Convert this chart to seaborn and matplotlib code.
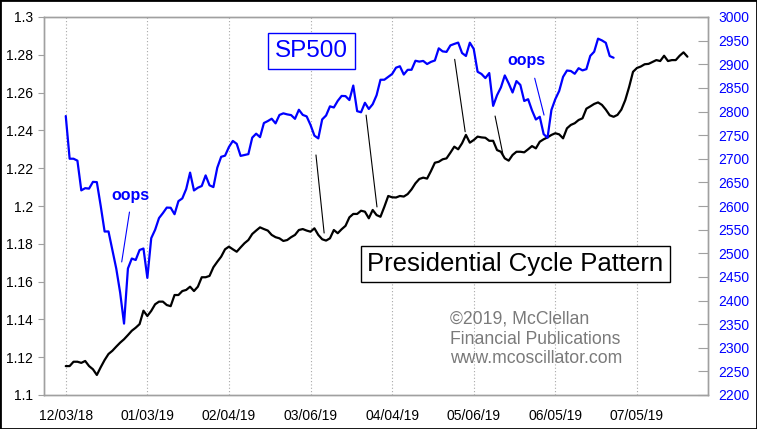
import matplotlib
matplotlib.use('Agg')
import matplotlib.pyplot as plt
import pandas as pd
import seaborn as sns
from matplotlib.patches import Rectangle

# x axis is in trading bars counted from 12/03/18, a label every 21 bars
tick_bars = [0, 21, 42, 63, 84, 105, 126, 147]
tick_labels = ['12/03/18', '01/03/19', '02/04/19', '03/06/19',
               '04/04/19', '05/06/19', '06/05/19', '07/05/19']

# SP500 daily closes, one per bar (right axis)
sp500 = [
    2790.37, 2700.06, 2700.06, 2695.95, 2633.08, 2637.72, 2636.78, 2651.07, 2650.54, 2599.95,
    2545.94, 2546.16, 2506.96, 2467.42, 2416.62, 2351.10, 2467.70, 2488.83, 2485.74, 2506.85,
    2510.03, 2447.89, 2531.94, 2549.69, 2574.41, 2584.96, 2596.64, 2596.26, 2582.61, 2610.30,
    2616.10, 2635.96, 2670.71, 2632.90, 2638.70, 2642.33, 2664.76, 2643.85, 2640.00, 2681.05,
    2704.10, 2706.53, 2724.87, 2737.70, 2731.61, 2706.05, 2707.88, 2709.80, 2744.73, 2753.03,
    2745.73, 2775.60, 2779.76, 2784.70, 2774.88, 2792.67, 2796.11, 2793.90, 2792.38, 2784.49,
    2803.69, 2792.81, 2789.65, 2771.45, 2748.93, 2743.07, 2783.30, 2791.52, 2810.92, 2808.48,
    2822.48, 2832.94, 2832.57, 2824.23, 2854.88, 2800.71, 2798.36, 2818.46, 2805.37, 2815.44,
    2834.40, 2867.19, 2867.24, 2873.40, 2879.39, 2892.74, 2895.77, 2878.20, 2888.21, 2888.32,
    2907.41, 2905.58, 2907.06, 2900.45, 2905.03, 2907.97, 2933.68, 2927.25, 2926.17, 2939.88,
    2943.03, 2945.83, 2923.73, 2917.52, 2945.64, 2932.47, 2884.05, 2879.42, 2870.72, 2881.40,
    2811.87, 2834.41, 2850.96, 2876.32, 2859.53, 2840.23, 2864.36, 2856.27, 2822.24, 2826.06,
    2802.39, 2783.02, 2788.86, 2752.06, 2744.45, 2803.27, 2826.15, 2843.49, 2873.34, 2886.73,
    2885.72, 2879.84, 2891.64, 2886.98, 2889.67, 2917.75, 2926.46, 2954.18, 2950.46, 2945.35,
    2917.38, 2913.78,
]

# presidential cycle pattern, one per bar (left axis)
pattern = [
    1.1153, 1.1153, 1.1176, 1.1176, 1.1170, 1.1180, 1.1153, 1.1136, 1.1106, 1.1147,
    1.1185, 1.1217, 1.1234, 1.1256, 1.1277, 1.1295, 1.1317, 1.1340, 1.1356, 1.1375,
    1.1446, 1.1418, 1.1445, 1.1480, 1.1494, 1.1494, 1.1476, 1.1470, 1.1529, 1.1529,
    1.1550, 1.1556, 1.1573, 1.1550, 1.1573, 1.1623, 1.1623, 1.1630, 1.1676, 1.1705,
    1.1732, 1.1771, 1.1785, 1.1771, 1.1758, 1.1781, 1.1803, 1.1820, 1.1852, 1.1870,
    1.1887, 1.1878, 1.1870, 1.1847, 1.1835, 1.1829, 1.1815, 1.1820, 1.1835, 1.1847,
    1.1873, 1.1878, 1.1870, 1.1864, 1.1882, 1.1847, 1.1824, 1.1817, 1.1829, 1.1873,
    1.1856, 1.1877, 1.1895, 1.1940, 1.1958, 1.1958, 1.1975, 1.1970, 1.1935, 1.1979,
    1.1952, 1.1943, 1.1996, 1.2053, 1.2046, 1.2045, 1.2053, 1.2050, 1.2063, 1.2088,
    1.2120, 1.2143, 1.2150, 1.2145, 1.2185, 1.2229, 1.2234, 1.2247, 1.2252, 1.2282,
    1.2314, 1.2300, 1.2332, 1.2376, 1.2335, 1.2349, 1.2367, 1.2363, 1.2361, 1.2345,
    1.2345, 1.2296, 1.2287, 1.2252, 1.2240, 1.2270, 1.2287, 1.2287, 1.2284, 1.2300,
    1.2317, 1.2305, 1.2340, 1.2353, 1.2363, 1.2376, 1.2385, 1.2379, 1.2358, 1.2411,
    1.2429, 1.2438, 1.2455, 1.2464, 1.2515, 1.2527, 1.2540, 1.2548, 1.2535, 1.2510,
    1.2480, 1.2472, 1.2482, 1.2510, 1.2560, 1.2630, 1.2710, 1.2730, 1.2738, 1.2750,
    1.2752, 1.2762, 1.2772, 1.2767, 1.2795, 1.2767, 1.2772, 1.2772, 1.2795, 1.2813,
    1.2790,
]

left_ticks = [1.1, 1.12, 1.14, 1.16, 1.18, 1.2, 1.22, 1.24, 1.26, 1.28, 1.3]
right_ticks = list(range(2200, 3001, 50))

sns.set_theme(style='white')
plt.rcParams['font.family'] = ['Liberation Sans', 'DejaVu Sans']

df_sp = pd.DataFrame({'bar': range(len(sp500)), 'close': sp500})
df_pc = pd.DataFrame({'bar': range(len(pattern)), 'value': pattern})

fig = plt.figure(figsize=(7.57, 4.29), dpi=100)
fig.patch.set_facecolor('white')
ax = fig.add_axes([44 / 757, 34 / 429, 664 / 757, 378 / 429])
ax2 = ax.twinx()

sns.lineplot(data=df_pc, x='bar', y='value', ax=ax, color='black', lw=1.6)
sns.lineplot(data=df_sp, x='bar', y='close', ax=ax2, color='#0000ff', lw=1.6)

ax.set_xlim(-5.6, 165.3)
ax.set_ylim(1.1, 1.3)
ax2.set_ylim(2200, 3000)

ax.set_xticks(tick_bars)
ax.set_xticklabels(tick_labels, fontsize=10)
ax.set_yticks(left_ticks)
ax.set_yticklabels([f'{t:g}' for t in left_ticks], fontsize=10)
ax2.set_yticks(right_ticks)
ax2.set_yticklabels([str(t) for t in right_ticks], fontsize=10)
ax.set_xlabel('')
ax.set_ylabel('')
ax2.set_ylabel('')

ax.grid(False)
ax2.grid(False)
ax.grid(axis='x', color='#a8a8a8', linestyle=(0, (1, 2)), lw=0.8)

ax.tick_params(axis='x', length=0, pad=10, colors='black')
ax.tick_params(axis='y', left=True, direction='out', length=4, width=0.8,
               color='#a0a0a0', pad=4, labelcolor='black')
ax2.tick_params(axis='y', right=True, direction='in', length=7, width=0.8,
                color='#a0a0a0', pad=7.5, labelcolor='#0000ff')
for a in (ax, ax2):
    for s in a.spines.values():
        s.set_color('#a0a0a0')
        s.set_linewidth(1)

# thin pointer lines (bar, left-axis value)
for (x1, y1), (x2, y2) in [((64.4, 1.2270), (66.5, 1.1857)),
                           ((77.3, 1.2481), (80.1, 1.1995)),
                           ((100.1, 1.2776), (102.8, 1.2393)),
                           ((110.5, 1.2476), (112.5, 1.2275))]:
    ax.plot([x1, x2], [y1, y2], color='black', lw=0.8)
for (x1, y1), (x2, y2) in [((16.4, 1.1968), (14.4, 1.1704)),
                           ((120.7, 1.2676), (123.1, 1.2481))]:
    ax.plot([x1, x2], [y1, y2], color='#0000ff', lw=0.8)

ax.text(16.7, 1.2053, 'oops', color='#0000ff', fontsize=11.5, fontweight='bold',
        ha='center', va='center')
ax.text(118.6, 1.2770, 'oops', color='#0000ff', fontsize=11.5, fontweight='bold',
        ha='center', va='center')

ax.text(63.2, 1.2820, 'SP500', color='#0000ff', fontsize=17.5, ha='center', va='center',
        bbox=dict(boxstyle='square,pad=0.3', fc='white', ec='#0000ff', lw=1))
ax.text(115.7, 1.1693, 'Presidential Cycle Pattern', color='black', fontsize=18.5,
        ha='center', va='center', zorder=5,
        bbox=dict(boxstyle='square,pad=0.25', fc='white', ec='black', lw=1))

for yv, line in [(1.1376, '\u00a92019, McClellan'),
                 (1.1270, 'Financial Publications'),
                 (1.1169, 'www.mcoscillator.com')]:
    ax.text(98.9, yv, line, color='#7a7a7a', fontsize=12.7, ha='left', va='baseline')

fig.add_artist(Rectangle((0, 0), 1, 1, transform=fig.transFigure, fill=False,
                         ec='black', lw=2))

fig.savefig('out.png', dpi=100)
plt.close(fig)
